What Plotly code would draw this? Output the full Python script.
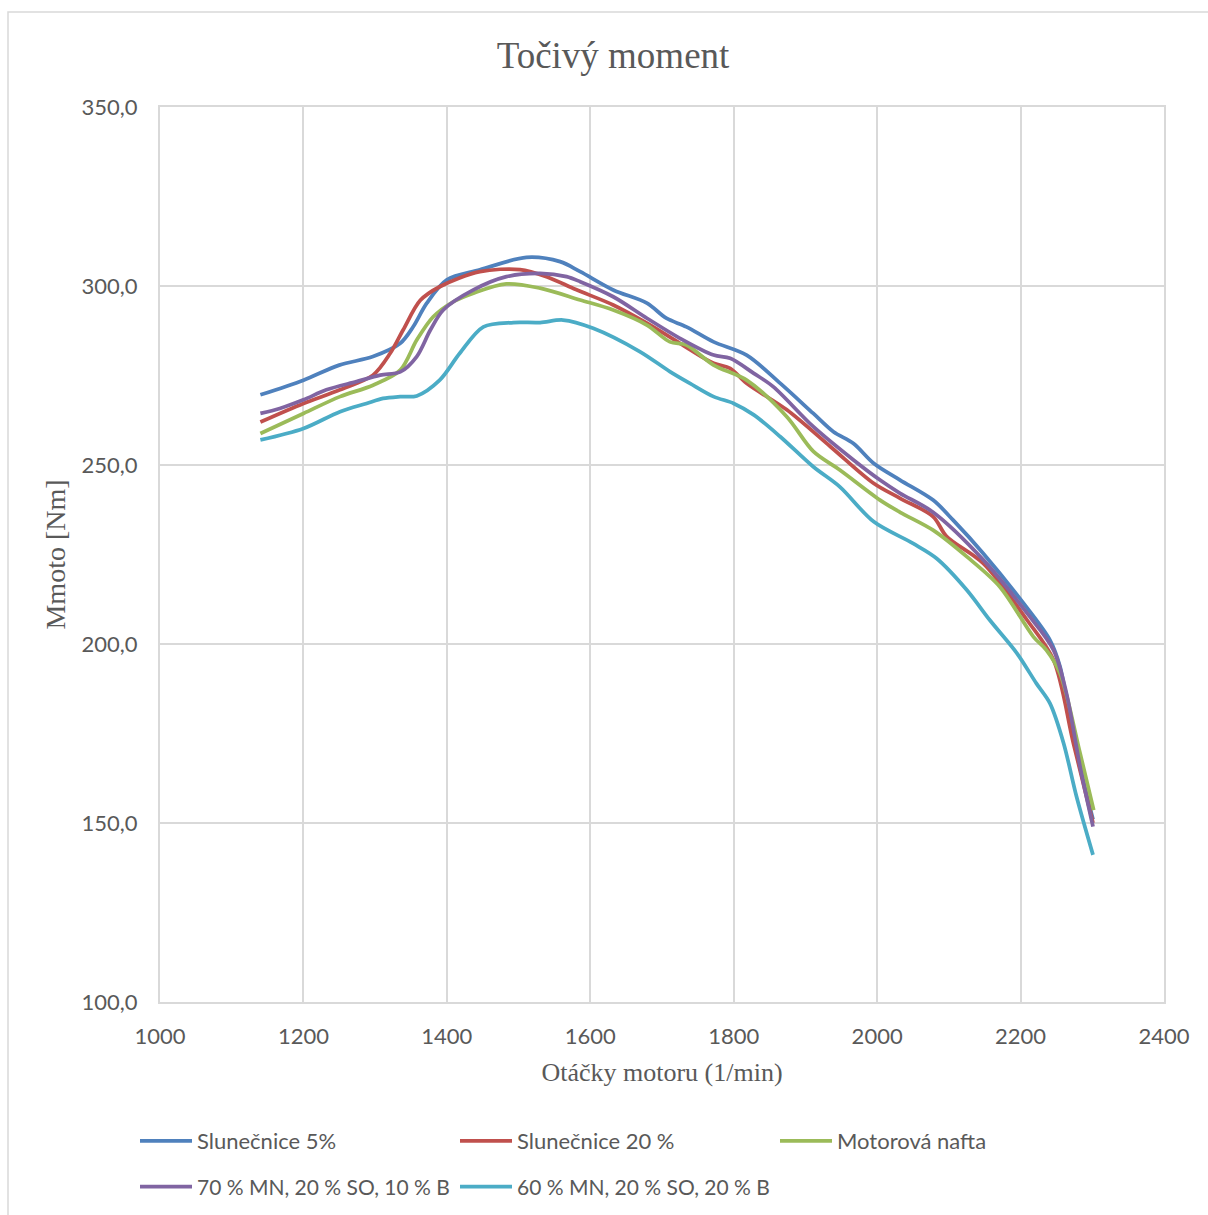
import plotly.graph_objects as go

# ---- data ----
blue_x = [1140, 1200, 1250, 1297, 1335, 1353, 1372, 1400, 1446, 1511, 1558, 1586, 1632, 1679, 1706, 1734,
          1772, 1818, 1865, 1911, 1939, 1967, 1995, 2032, 2078, 2106, 2148, 2204, 2241, 2255, 2274, 2301]
blue_y = [269.6, 273.7, 277.9, 280.3, 284.0, 288.6, 295.2, 301.7, 304.5, 308.0, 306.8, 304.0, 298.9, 295.2,
          291.0, 288.6, 284.4, 280.7, 272.8, 264.4, 259.3, 256.0, 250.5, 245.8, 240.2, 234.6, 225.3, 211.4,
          201.1, 193.7, 173.2, 151.0]

red_x = [1140, 1200, 1251, 1297, 1321, 1339, 1363, 1390, 1446, 1502, 1539, 1580, 1632, 1679, 1725, 1772,
         1795, 1818, 1874, 1935, 1995, 2032, 2078, 2097, 2148, 2209, 2246, 2274, 2301]
red_y = [262.0, 267.2, 271.0, 275.1, 281.2, 287.7, 296.0, 299.8, 304.0, 304.6, 302.6, 299.0, 294.7, 289.6,
         284.0, 278.4, 277.0, 272.8, 265.4, 255.1, 244.9, 240.7, 235.6, 230.0, 222.5, 206.7, 195.5, 172.0,
         150.0]

green_x = [1140, 1200, 1251, 1297, 1335, 1358, 1381, 1409, 1437, 1483, 1530, 1586, 1632, 1679, 1711, 1734,
           1772, 1818, 1874, 1911, 1948, 2004, 2032, 2078, 2125, 2171, 2218, 2236, 2255, 2283, 2302]
green_y = [258.8, 264.4, 269.1, 272.3, 276.5, 284.9, 291.4, 295.6, 298.0, 300.6, 299.4, 296.1, 293.3, 289.1,
           284.4, 283.5, 277.9, 273.7, 263.5, 253.8, 248.6, 240.2, 236.8, 231.8, 224.4, 216.0, 202.0, 198.3,
           191.8, 169.5, 153.6]

purple_x = [1140, 1167, 1200, 1232, 1274, 1307, 1335, 1358, 1377, 1395, 1437, 1483, 1530, 1567, 1586, 1632,
            1679, 1725, 1772, 1795, 1828, 1855, 1911, 1967, 2004, 2032, 2078, 2148, 2209, 2246, 2264, 2283, 2301]
purple_y = [264.4, 265.8, 268.2, 271.0, 273.3, 275.1, 276.0, 280.3, 287.7, 293.3, 298.9, 302.6, 303.5, 302.6,
            301.2, 297.0, 291.0, 285.4, 280.7, 279.8, 275.6, 271.9, 260.7, 251.4, 245.8, 242.1, 236.8, 223.5,
            208.6, 198.3, 186.2, 165.7, 149.0]

cyan_x = [1140, 1200, 1251, 1288, 1311, 1335, 1358, 1390, 1418, 1451, 1493, 1530, 1562, 1604, 1669, 1711,
          1739, 1772, 1800, 1828, 1865, 1911, 1948, 1995, 2050, 2083, 2125, 2157, 2195, 2222, 2241, 2260,
          2278, 2301]
cyan_y = [257.0, 260.2, 264.9, 267.2, 268.6, 269.1, 269.3, 273.7, 281.2, 288.6, 289.8, 289.8, 290.5, 288.2,
          281.7, 276.1, 272.8, 269.1, 267.2, 264.0, 257.9, 249.5, 243.9, 234.2, 228.1, 223.9, 215.1, 206.7,
          197.4, 189.0, 183.4, 172.3, 157.4, 141.1]

series_names = ["Slunečnice 5%", "Slunečnice 20 %", "Motorová nafta",
                "70 % MN, 20 % SO, 10 % B", "60 % MN, 20 % SO, 20 % B"]
series_x = [blue_x, red_x, green_x, purple_x, cyan_x]
series_y = [blue_y, red_y, green_y, purple_y, cyan_y]
series_colors = ["#4F81BD", "#C0504D", "#9BBB59", "#8064A2", "#4BACC6"]
series_legend = ["legend", "legend", "legend", "legend2", "legend2"]

title_text = "Točivý moment"
x_title = "Otáčky motoru (1/min)"
y_title = "Mmoto [Nm]"

TICK_FONT = dict(family="Lato, Carlito, sans-serif", size=22, color="#595959")
SERIF = "Liberation Serif, Times New Roman, serif"

fig = go.Figure()
for name, xs, ys, col, lg in zip(series_names, series_x, series_y, series_colors, series_legend):
    fig.add_trace(go.Scatter(
        x=xs, y=ys, name=name, mode="lines",
        line=dict(color=col, width=3.75, shape="spline", smoothing=0.9),
        legend=lg,
    ))

W, H = 1208, 1215
L, R, T, B = 160, 44, 107, 213
pw, ph = W - L - R, H - T - B

def px2x(px):
    return (px - L) / pw

def py2y(py):
    return (H - B - py) / ph

LEG_FONT = dict(family="Lato, Carlito, sans-serif", size=22, color="#595959")
LEG_FONT2 = dict(family="Lato, Carlito, sans-serif", size=21, color="#595959")

fig.update_layout(
    width=W, height=H,
    margin=dict(l=L, r=R, t=T, b=B, autoexpand=False),
    paper_bgcolor="white", plot_bgcolor="white",
    separators=", ",
    title=dict(text=title_text, x=613 / W, xref="container", xanchor="center",
               y=1 - 55 / H, yref="container", yanchor="middle",
               font=dict(family=SERIF, size=37, color="#595959")),
    xaxis=dict(range=[1000, 2400], dtick=200, tick0=1000,
               showgrid=True, gridcolor="#D9D9D9", gridwidth=2,
               showline=True, linecolor="#D9D9D9", linewidth=2, mirror=True,
               zeroline=False, ticks="", ticklabelstandoff=14,
               tickfont=TICK_FONT,
               title=dict(text=x_title, standoff=14,
                          font=dict(family=SERIF, size=26, color="#595959"))),
    yaxis=dict(range=[100, 350], dtick=50, tick0=100, tickformat=".1f",
               showgrid=True, gridcolor="#D9D9D9", gridwidth=2,
               showline=True, linecolor="#D9D9D9", linewidth=2, mirror=True,
               zeroline=False, ticks="", ticklabelstandoff=16,
               tickfont=TICK_FONT,
               title=dict(text=y_title, standoff=8,
                          font=dict(family=SERIF, size=28, color="#595959"))),
    legend=dict(orientation="h", x=px2x(135), xanchor="left", y=py2y(1141), yanchor="middle",
                entrywidth=253, entrywidthmode="pixels", itemwidth=52,
                font=LEG_FONT, bgcolor="rgba(0,0,0,0)"),
    legend2=dict(orientation="h", x=px2x(135), xanchor="left", y=py2y(1187), yanchor="middle",
                 entrywidth=253, entrywidthmode="pixels", itemwidth=52,
                 font=LEG_FONT2, bgcolor="rgba(0,0,0,0)"),
    shapes=[dict(type="rect", xref="paper", yref="paper",
                 x0=px2x(8), x1=px2x(1240), y0=py2y(1240), y1=py2y(12),
                 line=dict(color="#D9D9D9", width=1.5), fillcolor="rgba(0,0,0,0)", layer="below")],
)

fig.write_html("out.html")
